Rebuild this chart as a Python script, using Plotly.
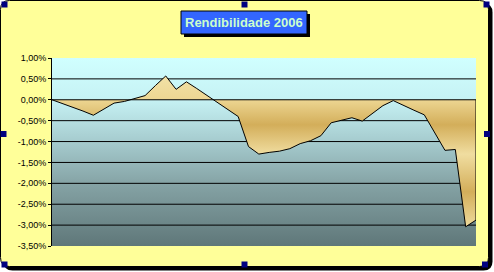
import plotly.graph_objects as go

# ---- data ----
values = [0.00, -0.09, -0.17, -0.27, -0.37, -0.23, -0.08, -0.04, 0.03, 0.10,
          0.34, 0.57, 0.25, 0.43, 0.27, 0.10, -0.06, -0.23, -0.40, -1.12,
          -1.30, -1.26, -1.23, -1.17, -1.05, -0.98, -0.86, -0.55, -0.49, -0.43,
          -0.51, -0.32, -0.14, -0.02, -0.14, -0.25, -0.36, -0.78, -1.21, -1.19,
          -3.04, -2.88]
periods = list(range(1, len(values) + 1))
tick_values = [1.0, 0.5, 0.0, -0.5, -1.0, -1.5, -2.0, -2.5, -3.0, -3.5]
tick_labels = ["1,00%", "0,50%", "0,00%", "-0,50%", "-1,00%", "-1,50%",
               "-2,00%", "-2,50%", "-3,00%", "-3,50%"]
title_text = "Rendibilidade 2006"

Y_MAX = max(tick_values)
Y_MIN = min(tick_values)

# ---- geometry (pixels) ----
W, H = 494, 272
L, R, T, B = 52, 476, 58, 246


def X(px):
    return (px - L) / (R - L)


def Y(py):
    return (B - py) / (B - T)


def rrect(x0, y0, x1, y1, r):
    return (f"M {X(x0+r)},{Y(y0)} L {X(x1-r)},{Y(y0)} Q {X(x1)},{Y(y0)} {X(x1)},{Y(y0+r)} "
            f"L {X(x1)},{Y(y1-r)} Q {X(x1)},{Y(y1)} {X(x1-r)},{Y(y1)} "
            f"L {X(x0+r)},{Y(y1)} Q {X(x0)},{Y(y1)} {X(x0)},{Y(y1-r)} "
            f"L {X(x0)},{Y(y0+r)} Q {X(x0)},{Y(y0)} {X(x0+r)},{Y(y0)} Z")


fig = go.Figure()

x_ends = [periods[0], periods[-1]]

# plot-area gradient background
fig.add_trace(go.Scatter(x=x_ends, y=[Y_MAX, Y_MAX], mode="lines",
                         line=dict(width=0), hoverinfo="skip", showlegend=False))
fig.add_trace(go.Scatter(
    x=x_ends, y=[Y_MIN, Y_MIN], mode="lines", line=dict(width=0),
    fill="tonexty", hoverinfo="skip", showlegend=False,
    fillgradient=dict(type="vertical", start=Y_MIN, stop=Y_MAX,
                      colorscale=[[0.0, "#5F7779"], [0.33, "#85A3A5"],
                                  [0.56, "#A6CCCF"], [0.78, "#C6F2F4"],
                                  [1.0, "#D0FFFF"]])))

# gridlines (behind the area)
gx, gy = [], []
for v in tick_values:
    if v in (Y_MAX, Y_MIN, 0.0):
        continue
    gx += [periods[0], periods[-1], None]
    gy += [v, v, None]
fig.add_trace(go.Scatter(x=gx, y=gy, mode="lines", line=dict(color="black", width=1),
                         hoverinfo="skip", showlegend=False))

# area series
fig.add_trace(go.Scatter(
    x=periods, y=values, mode="lines", line=dict(color="black", width=1),
    fill="tozeroy", showlegend=False, name=title_text,
    fillgradient=dict(type="vertical", start=-3.1, stop=0.6,
                      colorscale=[[0.0, "#F0DDA0"], [0.243, "#D3AE5A"],
                                  [0.486, "#F0DDA0"], [0.676, "#D3AE5A"],
                                  [0.838, "#EDD692"], [1.0, "#F2E2A8"]])))

shapes = []
# chart area shadow + body
shapes.append(dict(type="path", xref="paper", yref="paper", layer="below",
                   path=rrect(3.5, 3.5, 492.5, 270.5, 9),
                   fillcolor="black", line=dict(width=0)))
shapes.append(dict(type="path", xref="paper", yref="paper", layer="below",
                   path=rrect(0.5, 0.5, 488.5, 266.5, 9),
                   fillcolor="#FFFF99", line=dict(color="black", width=1)))
# title box shadow + box
shapes.append(dict(type="rect", xref="paper", yref="paper", layer="above",
                   x0=X(184), x1=X(310), y0=Y(14), y1=Y(37),
                   fillcolor="black", line=dict(width=0)))
shapes.append(dict(type="rect", xref="paper", yref="paper", layer="above",
                   x0=X(181), x1=X(307), y0=Y(11), y1=Y(34),
                   fillcolor="#3366FF", line=dict(color="black", width=1)))
# category axis at zero and right edge of area
shapes.append(dict(type="line", xref="x", yref="y", layer="above",
                   x0=periods[0], x1=periods[-1], y0=0, y1=0,
                   line=dict(color="black", width=1)))
shapes.append(dict(type="line", xref="x", yref="y", layer="above",
                   x0=periods[-1], x1=periods[-1], y0=0, y1=values[-1],
                   line=dict(color="black", width=1)))
# selection handles
for cx, cy in [(4.5, 4.5), (244.5, 4.5), (486.5, 4.5), (3.5, 134), (487, 134),
               (4.5, 264.5), (244.5, 264.5), (485, 264.5)]:
    shapes.append(dict(type="rect", xref="paper", yref="paper", layer="above",
                       x0=X(cx - 3), x1=X(cx + 3), y0=Y(cy - 3), y1=Y(cy + 3),
                       fillcolor="#000080", line=dict(width=0)))

fig.update_layout(
    width=W, height=H, autosize=False,
    margin=dict(l=L, r=W - R, t=T, b=H - B, pad=0),
    paper_bgcolor="white", plot_bgcolor="rgba(0,0,0,0)",
    font=dict(family="Arial, 'Liberation Sans', sans-serif", color="black"),
    shapes=shapes,
    annotations=[dict(text=f"<b>{title_text}</b>", xref="paper", yref="paper",
                      x=X(244), y=Y(22.5), xanchor="center", yanchor="middle",
                      showarrow=False, font=dict(size=13, color="#CCFFCC"))],
    xaxis=dict(range=[periods[0], periods[-1]], visible=False, fixedrange=True),
    yaxis=dict(range=[Y_MIN, Y_MAX], tickvals=tick_values, ticktext=tick_labels,
               showgrid=False, zeroline=False, showline=True, linecolor="black",
               linewidth=1, ticks="outside", ticklen=3, tickcolor="black",
               tickfont=dict(size=9, color="black"), fixedrange=True),
    showlegend=False,
)

fig.write_html("out.html")
